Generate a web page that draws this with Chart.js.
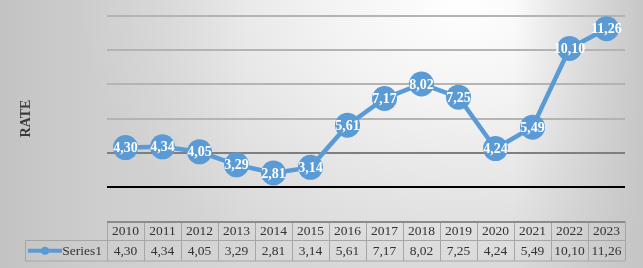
<!DOCTYPE html>
<html>
<head>
<meta charset="utf-8">
<script src="https://cdn.jsdelivr.net/npm/chart.js@4"></script>
<style>
  html, body { margin: 0; padding: 0; }
  #wrap {
    width: 643px; height: 268px; position: relative;
    background:
      linear-gradient(to right, rgba(195,195,195,1) 0%, rgba(195,195,195,0.45) 15%, rgba(195,195,195,0) 38%, rgba(195,195,195,0) 80%, rgba(195,195,195,0.9) 100%),
      radial-gradient(ellipse 60% 110% at 72% 0%, #ffffff 0%, #f3f3f3 35%, #e3e3e3 70%, #d6d6d6 100%);
  }
</style>
</head>
<body>
<div id="wrap"><canvas id="rateChart"></canvas></div>
<script>
const years = ['2010', '2011', '2012', '2013', '2014', '2015', '2016', '2017', '2018', '2019', '2020', '2021', '2022', '2023'];
const rates = [4.30, 4.34, 4.05, 3.29, 2.81, 3.14, 5.61, 7.17, 8.02, 7.25, 4.24, 5.49, 10.10, 11.26];
const seriesName = 'Series1';
const axisTitle = 'RATE';
const yTicks = [0, 2, 4, 6, 8, 10, 12];

const SERIF = "'Liberation Serif', 'Times New Roman', serif";
const BLUE = '#5b9bd5';
const fmt = (v) => v.toFixed(2).replace('.', ',');

// white value labels on top of the markers
const pointLabels = {
    id: 'pointLabels',
    afterDatasetsDraw(chart) {
        const { ctx } = chart;
        const meta = chart.getDatasetMeta(0);
        ctx.save();
        ctx.font = 'bold 14px ' + SERIF;
        ctx.fillStyle = '#ffffff';
        ctx.textAlign = 'center';
        ctx.textBaseline = 'middle';
        meta.data.forEach((pt, i) => ctx.fillText(fmt(rates[i]), pt.x, pt.y + 1));
        ctx.restore();
    },
};

// data table under the plot, columns follow the category scale
const dataTable = {
    id: 'dataTable',
    afterDraw(chart) {
        const { ctx, chartArea } = chart;
        const x = chart.scales.x;
        const colW = x.getPixelForValue(1) - x.getPixelForValue(0);
        const top = chartArea.bottom;
        const mid = top + 19.5;
        const bottom = mid + 20.5;
        const left = chartArea.left;
        const right = left + colW * years.length;
        const labelLeft = 25.5;

        ctx.save();
        ctx.strokeStyle = '#a6a6a6';
        ctx.lineWidth = 1;
        ctx.beginPath();
        ctx.moveTo(left, mid); ctx.lineTo(right, mid);
        ctx.moveTo(labelLeft, mid); ctx.lineTo(left, mid);
        ctx.moveTo(labelLeft, bottom); ctx.lineTo(right, bottom);
        ctx.moveTo(labelLeft, mid); ctx.lineTo(labelLeft, bottom);
        for (let i = 0; i <= years.length; i++) {
            const cx = Math.round(left + colW * i) + 0.5;
            ctx.moveTo(cx, top); ctx.lineTo(cx, bottom);
        }
        ctx.stroke();
        ctx.strokeStyle = '#8c8c8c';
        ctx.lineWidth = 2;
        ctx.beginPath();
        ctx.moveTo(left, top + 1); ctx.lineTo(right, top + 1);
        ctx.stroke();

        ctx.font = '13.5px ' + SERIF;
        ctx.fillStyle = '#333333';
        ctx.textAlign = 'center';
        ctx.textBaseline = 'middle';
        years.forEach((y, i) => {
            const cx = x.getPixelForValue(i);
            ctx.fillText(y, cx, (top + mid) / 2 + 1);
            ctx.fillText(fmt(rates[i]), cx, (mid + bottom) / 2 + 1);
        });

        // legend key in the label cell
        const ky = (mid + bottom) / 2;
        ctx.strokeStyle = BLUE;
        ctx.lineWidth = 4;
        ctx.beginPath();
        ctx.moveTo(28, ky); ctx.lineTo(62, ky);
        ctx.stroke();
        ctx.fillStyle = BLUE;
        ctx.beginPath();
        ctx.arc(45, ky, 4, 0, Math.PI * 2);
        ctx.fill();
        ctx.fillStyle = '#333333';
        ctx.textAlign = 'right';
        ctx.fillText(seriesName, left - 5, ky + 1);
        ctx.restore();
    },
};

new Chart(document.getElementById('rateChart'), {
    type: 'line',
    data: {
        labels: years,
        datasets: [{
            label: seriesName,
            data: rates,
            borderColor: BLUE,
            borderWidth: 4.5,
            backgroundColor: BLUE,
            pointRadius: 12.5,
            pointHoverRadius: 12.5,
            pointBorderWidth: 0,
            pointBackgroundColor: BLUE,
            tension: 0,
            clip: false,
        }],
    },
    options: {
        responsive: true,
        maintainAspectRatio: false,
        animation: false,
        layout: { padding: { top: 16, right: 18, bottom: 47, left: 0 } },
        plugins: { legend: { display: false }, tooltip: { enabled: false } },
        scales: {
            x: { type: 'category', display: false, offset: true },
            y: {
                min: yTicks[0],
                max: yTicks[yTicks.length - 1],
                afterBuildTicks: (scale) => { scale.ticks = yTicks.map((v) => ({ value: v })); },
                afterFit: (scale) => { scale.width = 107; },
                ticks: { display: false },
                border: { display: false },
                grid: {
                    drawTicks: false,
                    color: (c) => c.tick.value === 0 ? 'rgba(0,0,0,0)' : c.tick.value === 2 ? '#000000' : c.tick.value === 4 ? '#7f7f7f' : '#b4b4b4',
                    lineWidth: 2,
                },
                title: {
                    display: true,
                    text: axisTitle,
                    color: '#3a3a3a',
                    font: { family: SERIF, size: 14, weight: 'bold' },
                    padding: { top: 18, bottom: 0 },
                },
            },
        },
    },
    plugins: [pointLabels, dataTable],
});
</script>
</body>
</html>
